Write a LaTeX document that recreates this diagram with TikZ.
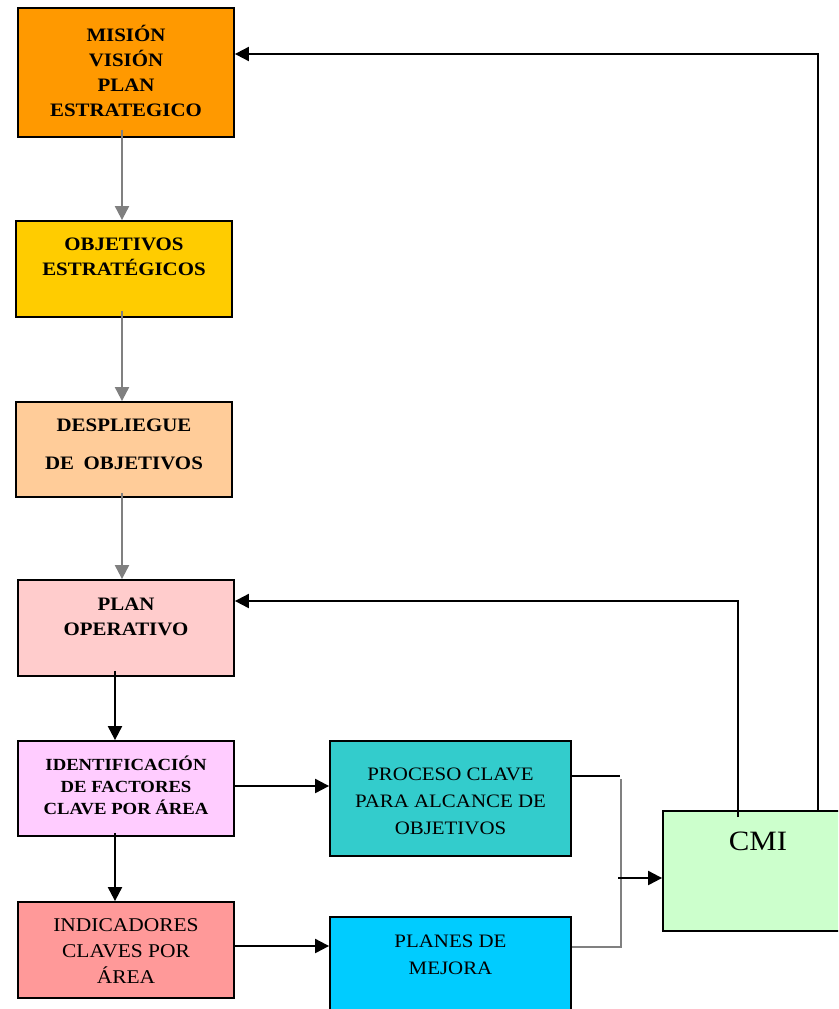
\documentclass[tikz,border=0pt]{standalone}
\usepackage{fontspec}
\setmainfont{Liberation Serif}[FakeStretch=1.1]
\usepackage{tikz}
\usetikzlibrary{arrows.meta}

\definecolor{naranja}{HTML}{FF9900}
\definecolor{oro}{HTML}{FFCC00}
\definecolor{melocoton}{HTML}{FFCC99}
\definecolor{rosa}{HTML}{FFCCCC}
\definecolor{lila}{HTML}{FFCCFF}
\definecolor{salmon}{HTML}{FF9999}
\definecolor{turquesa}{HTML}{33CCCC}
\definecolor{celeste}{HTML}{00CCFF}
\definecolor{menta}{HTML}{CCFFCC}
\definecolor{gris}{HTML}{808080}

\begin{document}
\begin{tikzpicture}[x=1pt,y=-1pt,>={Triangle[length=14pt,width=14pt]},line width=2pt]
 \tikzstyle{caja}=[draw=black,line width=1.8pt,minimum width=216pt,inner sep=0pt]
 \tikzstyle{titulo}=[align=center,font=\bfseries\fontsize{19}{25}\selectfont]
 \tikzstyle{texto}=[align=center,font=\fontsize{19}{27}\selectfont]
 \useasboundingbox (0,0) rectangle (838,1009);
 \clip (0,0) rectangle (838,1009);

 % left column
 \node (A) at (126,72.5) [caja,fill=naranja,minimum height=129pt] {};
 \node (B) at (124,269) [caja,fill=oro,minimum height=96pt] {};
 \node (C) at (124,449.5) [caja,fill=melocoton,minimum height=95pt] {};
 \node (D) at (126,628) [caja,fill=rosa,minimum height=96pt] {};
 \node (E) at (126,788.5) [caja,fill=lila,minimum height=95pt] {};
 \node (F) at (126,950) [caja,fill=salmon,minimum height=96pt] {};
 % right part
 \node (G) at (450.5,798.5) [caja,fill=turquesa,minimum width=241pt,minimum height=115pt] {};
 \node (H) at (450.5,974.5) [caja,fill=celeste,minimum width=241pt,minimum height=115pt] {};
 \node (I) at (783,871) [caja,fill=menta,minimum width=240pt,minimum height=120pt] {};

 \node (Atext) at ([yshift=2pt]A.center) [titulo] {MISIÓN\\VISIÓN\\PLAN\\ESTRATEGICO};
 \node (Btext) at ([yshift=12pt]B.center) [titulo] {OBJETIVOS\\ESTRATÉGICOS};
 \node (Ctext) at ([yshift=5.5pt]C.center) [titulo] {DESPLIEGUE\\[13pt]DE\enspace OBJETIVOS};
 \node (Dtext) at ([yshift=11pt]D.center) [titulo] {PLAN\\OPERATIVO};
 \node (Etext) at ([yshift=3.5pt]E.center) [titulo,font=\bfseries\fontsize{17}{22}\selectfont] {IDENTIFICACIÓN\\DE FACTORES\\CLAVE POR ÁREA};
 \node (Ftext) at ([yshift=-1pt]F.center) [texto,font=\fontsize{19.5}{26}\selectfont] {INDICADORES\\CLAVES POR\\ÁREA};
 \node (Gtext) at ([yshift=-2.5pt]G.center) [texto] {PROCESO CLAVE\\PARA ALCANCE DE\\OBJETIVOS};
 \node (Htext) at ([yshift=20pt]H.center) [texto] {PLANES DE\\MEJORA};
 \node (Itext) at ([xshift=-25pt,yshift=30pt]I.center) [texto,font=\fontsize{28}{30}\selectfont] {CMI};

 \draw [->,gris] ([xshift=-4pt,yshift=8pt]A.south) -- ([xshift=-2pt]B.north);
 \draw [->,gris] ([xshift=-2pt,yshift=7pt]B.south) -- ([xshift=-2pt]C.north);
 \draw [->,gris] ([xshift=-2pt,yshift=5pt]C.south) -- ([xshift=-4pt]D.north);
 \draw [->] ([xshift=-11pt,yshift=6pt]D.south) -- ([xshift=-11pt]E.north);
 \draw [->] ([xshift=-11pt,yshift=4pt]E.south) -- ([xshift=-11pt]F.north);
 \draw [->] ([yshift=2.5pt]E.east) -- ([yshift=2.5pt]E.east -| G.west);
 \draw [->] ([yshift=4pt]F.east) -- ([yshift=4pt]F.east -| H.west);

 % joining the two boxes into the CMI
 \coordinate (Jtop) at (621,779);
 \coordinate (Jbot) at (621,947);
 \coordinate (J) at (618,878);
 \draw ([yshift=22.5pt]G.east) -- +(48,0);
 \draw [gris] (Jtop) -- (Jbot) -- ([yshift=27.5pt]H.east);
 \draw [->] (J) -- ([yshift=-7pt]I.west);

 % feedback from the CMI
 \draw [->] ([xshift=-45pt,yshift=-7pt]I.north) |- ([yshift=27pt]D.east);
 \draw [->] ([xshift=35pt]I.north) |- ([yshift=18.5pt]A.east);
\end{tikzpicture}
\end{document}
